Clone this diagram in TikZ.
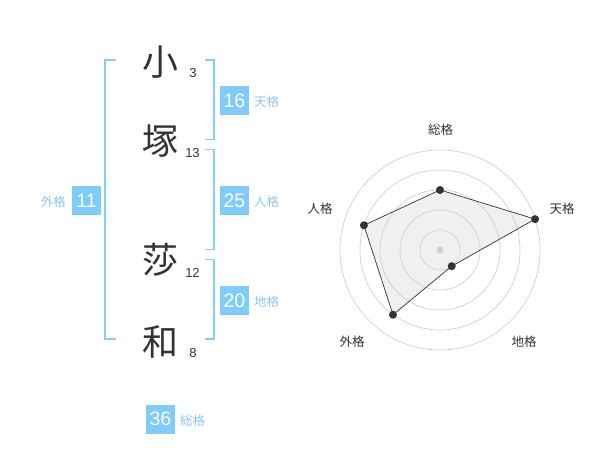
\documentclass[tikz,border=0pt]{standalone}
\usepackage{fontspec}
\setmainfont{Liberation Sans}
\newfontfamily\cjk{Noto Sans CJK JP}
\definecolor{boxblue}{HTML}{7FCCFB}
\definecolor{lblblue}{HTML}{8AC8F2}
\definecolor{brk}{HTML}{85CEF9}
\definecolor{ink}{HTML}{333333}
\definecolor{ring}{HTML}{D0D0D0}
\definecolor{area}{HTML}{F0F0F0}
\begin{document}
\begin{tikzpicture}[x=1pt,y=-1pt,
  kanji/.style={inner sep=0pt,text=ink,font=\cjk\fontsize{36}{36}\selectfont},
  strokes/.style={inner sep=0pt,text=ink,font=\fontsize{13}{13}\selectfont},
  numbox/.style={fill=boxblue,text=white,minimum width=29pt,minimum height=29pt,inner sep=0pt,font=\fontsize{19.5}{19.5}\selectfont},
  kaku/.style={inner sep=0pt,text=lblblue,font=\cjk\fontsize{12.5}{12.5}\selectfont},
  bracket/.style={draw=brk,line width=1.6pt},
  radarlbl/.style={inner sep=0pt,text=ink,font=\cjk\fontsize{12.5}{12.5}\selectfont},
  ringline/.style={draw=ring,line width=0.7pt},
  dot/.style={circle,fill=ink,inner sep=0pt,minimum size=8pt}]
\useasboundingbox (0,0) rectangle (600,470);
% kanji
\node[kanji] (k1) at (160,62) {小};
\node[kanji] (k2) at (160,141) {塚};
\node[kanji] (k3) at (160,260) {莎};
\node[kanji] (k4) at (160,342) {和};
\node[strokes] (s1) at (193,73) {3};
\node[strokes] (s2) at (192.5,153) {13};
\node[strokes] (s3) at (192.5,272.5) {12};
\node[strokes] (s4) at (193,353) {8};
% brackets
\draw[bracket] (116,60) -- (105,60) -- (105,339) -- (116,339);
\draw[bracket] (205,60) -- (214,60) -- (214,139.5) -- (205,139.5);
\draw[bracket] (205,149.5) -- (214,149.5) -- (214,249.5) -- (205,249.5);
\draw[bracket] (205,259.5) -- (214,259.5) -- (214,339) -- (205,339);
% boxes
\node[numbox] (ten) at (234.5,100.5) {16};
\node[kaku,anchor=west] (tenl) at (254,102) {天格};
\node[numbox] (jin) at (234.5,200.5) {25};
\node[kaku,anchor=west] (jinl) at (254,202) {人格};
\node[numbox] (chi) at (234.5,300.5) {20};
\node[kaku,anchor=west] (chil) at (254,302) {地格};
\node[numbox] (gai) at (86.5,200.5) {11};
\node[kaku,anchor=east] (gail) at (66,202) {外格};
\node[numbox] (sou) at (160.5,419) {36};
\node[kaku,anchor=west] (soul) at (180,421) {総格};
% radar
\begin{scope}[shift={(440,250)},y=1pt]
  \coordinate (p1) at (90:60);
  \coordinate (p2) at (18:100);
  \coordinate (p3) at (-54:20);
  \coordinate (p4) at (-126:80);
  \coordinate (p5) at (162:80);
  \fill[area] (p1) -- (p2) -- (p3) -- (p4) -- (p5) -- cycle;
  \foreach \r in {20,40,60,80,100} \draw[ringline] (0,0) circle[radius=\r];
  \fill[ring] (0,0) circle[radius=3.5];
  \draw[ink,line width=0.7pt] (p1) -- (p2) -- (p3) -- (p4) -- (p5) -- cycle;
  \foreach \p in {p1,p2,p3,p4,p5} \node[dot] at (\p) {};
  \node[radarlbl] (r1) at (0.5,120) {総格};
  \node[radarlbl] (r2) at (122,41) {天格};
  \node[radarlbl] (r5) at (-120,41) {人格};
  \node[radarlbl] (r4) at (-88,-92) {外格};
  \node[radarlbl] (r3) at (84,-92) {地格};
\end{scope}
\end{tikzpicture}
\end{document}
